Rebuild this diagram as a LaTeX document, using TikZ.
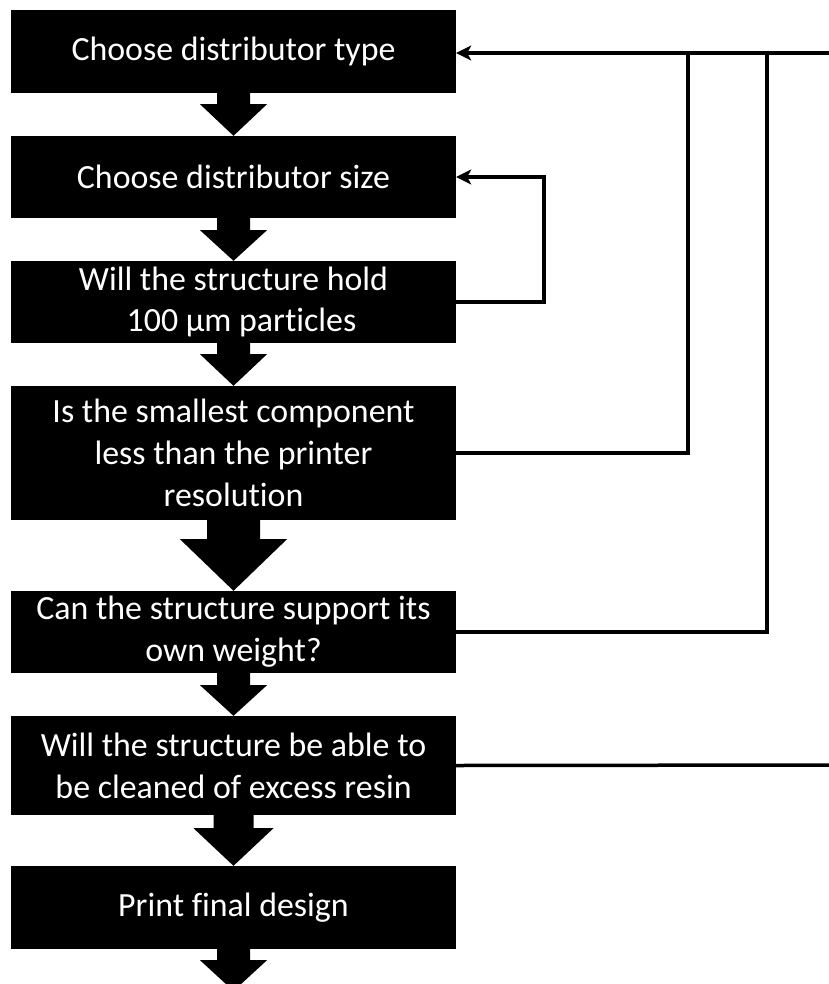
\documentclass[tikz,border=0pt]{standalone}
\usepackage{fontspec}
\setmainfont{Carlito}[Ligatures={NoCommon}]
\usetikzlibrary{arrows.meta,calc}

% block arrow: from anchor, to anchor, stem half width, head half width, stem length
\newcommand{\flowarrow}[5]{%
  \fill let \p1=(#1), \p2=(#2) in
    (\x1-#3,\y1) -- (\x1-#3,\y1-#5) -- (\x1-#4,\y1-#5) -- (\x1,\y2)
    -- (\x1+#4,\y1-#5) -- (\x1+#3,\y1-#5) -- (\x1+#3,\y1) -- cycle;}

\begin{document}
\begin{tikzpicture}[x=1bp,y=-1bp,
    stage/.style={fill=black, text=white, minimum width=445bp, inner sep=0pt,
      align=center, font=\fontsize{34}{42}\selectfont},
    link/.style={line width=3.5bp},
    backarrow/.style={-{Stealth[length=15bp,width=15bp,inset=4bp]}}]
  \useasboundingbox (0,0) rectangle (829,984);

  \node[stage, minimum height=83bp]  (type)   at (233.5,51.5)  {Choose distributor type};
  \node[stage, minimum height=82bp]  (size)   at (233.5,177)   {Choose distributor size};
  \node[stage, minimum height=82bp]  (hold)   at (233.5,302)   {Will the structure hold\\\hspace*{16bp}100 µm particles};
  \node[stage, minimum height=134bp] (res)    at (233.5,453)   {Is the smallest component\\less than the printer\\resolution};
  \node[stage, minimum height=82bp]  (weight) at (233.5,632)   {Can the structure support its\\own weight?};
  \node[stage, minimum height=99bp]  (clean)  at (233.5,765.5) {Will the structure be able to\\be cleaned of excess resin};
  \node[stage, minimum height=83bp]  (print)  at (233.5,907.5) {Print final design};
  \coordinate (tail) at (233.5,991);

  \flowarrow{type.south}{size.north}{16.5bp}{33.5bp}{11bp}
  \flowarrow{size.south}{hold.north}{16.5bp}{33.5bp}{12bp}
  \flowarrow{hold.south}{res.north}{16.5bp}{33.5bp}{11bp}
  \flowarrow{res.south}{weight.north}{26.5bp}{53.5bp}{19bp}
  \flowarrow{weight.south}{clean.north}{16.5bp}{33.5bp}{12bp}
  \flowarrow{clean.south}{print.north}{20bp}{40bp}{13bp}
  \flowarrow{print.south}{tail}{16.5bp}{33.5bp}{11bp}

  % feedback lines
  \coordinate (loop) at (544,0);
  \coordinate (j1) at (688,53);
  \coordinate (j2) at (767,53);
  \coordinate (r1) at (845,53);
  \coordinate (r6) at (845,765);

  \draw[link, backarrow] (hold.east) -- (hold.east -| loop) |- (size.east);
  \draw[link, backarrow] (r1) -- (type.east |- r1);
  \draw[link] (res.east |- 0,453) -| (j1);
  \draw[link] (weight.east) -| (j2);
  \draw[link] (clean.east) -- (r6);
\end{tikzpicture}
\end{document}
